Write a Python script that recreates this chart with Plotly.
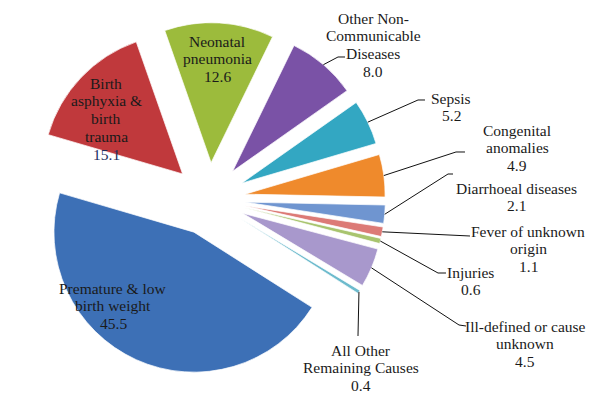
import math
import plotly.graph_objects as go

labels = ["Premature & low birth weight", "Birth asphyxia & birth trauma", "Neonatal pneumonia",
          "Other Non-Communicable Diseases", "Sepsis", "Congenital anomalies", "Diarrhoeal diseases",
          "Fever of unknown origin", "Injuries", "Ill-defined or cause unknown", "All Other Remaining Causes"]
display = ["Premature & low<br>birth weight", "Birth<br>asphyxia &<br>birth<br>trauma", "Neonatal<br>pneumonia",
           "Other Non-<br>Communicable<br>Diseases", "Sepsis", "Congenital<br>anomalies", "Diarrhoeal diseases",
           "Fever of unknown<br>origin", "Injuries", "Ill-defined or cause<br>unknown", "All Other<br>Remaining Causes"]
values = [45.5, 15.1, 12.6, 8.0, 5.2, 4.9, 2.1, 1.1, 0.6, 4.5, 0.4]
colors = ["#3D70B6", "#C0393C", "#9CBB3C", "#7A52A6", "#33A7C2", "#EF8A2C", "#6F95D0",
          "#DC7A76", "#A8C46E", "#A898CC", "#6DBBCD"]

# layout (pixels)
W, H = 591, 395
CX, CY, R, PULL = 209, 199, 140, 0.26
ROT = 122.5
half = R * (1 + PULL)
LINE = 17.9
FONT = dict(family="Liberation Serif, Times New Roman, serif", size=15.5, color="#1a1a1a")
# x centre and y of first text line for each label (layout only)
label_pos = [(113, 288), (106, 83), (217, 41), (373, 18), (451, 98), (517, 130), (516, 188),
             (528, 231), (471, 272), (525, 326), (361, 350)]
# elbow / end points of leader lines (layout only)
leader = [None, None, None,
          [(338, 57), (345, 57)], [(418, 100), (425, 100)], [(456, 152), (465, 152)],
          [(448, 174), (453, 174)], [(470, 236)], [(438, 273), (446, 273)],
          [(459, 325), (466, 326)], [(358, 336)]]

fig = go.Figure(go.Pie(
    labels=labels, values=values, sort=False, direction="clockwise", rotation=ROT,
    textinfo="none", hoverinfo="label+value",
    marker=dict(colors=colors, line=dict(color="rgba(255,255,255,0.7)", width=1)),
    pull=[PULL] * len(values), showlegend=False,
    domain=dict(x=[(CX - half) / W, (CX + half) / W], y=[1 - (CY + half) / H, 1 - (CY - half) / H]),
))

def px(x, y):
    return x / W, 1 - y / H

total = sum(values)
cum = 0.0
annotations = []
shapes = []
for i, v in enumerate(values):
    a0 = ROT + 360 * cum / total
    cum += v
    a1 = ROT + 360 * cum / total
    mid = math.radians((a0 + a1) / 2)
    ox = CX + PULL * R * math.sin(mid)
    oy = CY - PULL * R * math.cos(mid)
    ax = ox + R * math.sin(mid)
    ay = oy - R * math.cos(mid)
    tx, ty = label_pos[i]
    lines = display[i].split("<br>") + [f"{v:.1f}"]
    for k, line in enumerate(lines):
        x, y = px(tx, ty + k * LINE)
        f = dict(FONT)
        if i == 1 and k == len(lines) - 1:
            f["color"] = "#1F2F5F"
        annotations.append(dict(x=x, y=y, xref="paper", yref="paper", text=line, showarrow=False,
                                font=f, xanchor="center", yanchor="middle"))
    if leader[i]:
        pts = [(ax, ay)] + leader[i]
        path = "M " + " L ".join(f"{px(x, y)[0]:.5f},{px(x, y)[1]:.5f}" for x, y in pts)
        shapes.append(dict(type="path", path=path, xref="paper", yref="paper",
                           line=dict(color="#111111", width=1)))

fig.update_layout(width=W, height=H, margin=dict(l=0, r=0, t=0, b=0),
                  paper_bgcolor="white", annotations=annotations, shapes=shapes)
fig.write_html("out.html", config={"displayModeBar": False},
               post_script="document.body.style.margin='0';document.body.style.overflow='hidden';")
